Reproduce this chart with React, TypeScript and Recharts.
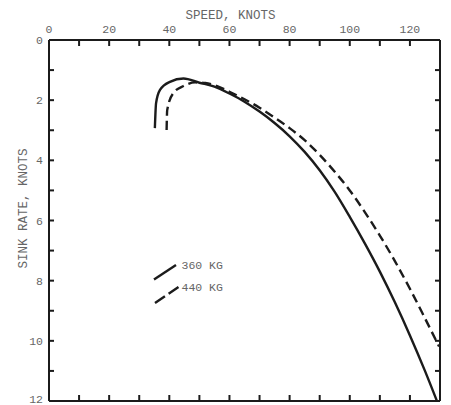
import React from 'react';
import { LineChart, Line, XAxis, YAxis, Legend } from 'recharts';

// Glide polar: sink rate vs. airspeed for two gross weights
const speed360 = [35.2, 35.6, 36.9, 40.2, 44.7, 50, 55, 60, 65, 70, 75, 80, 85, 90, 95, 100, 105, 110, 115, 120, 125, 128.9];
const sink360 = [2.93, 2.1, 1.66, 1.39, 1.28, 1.42, 1.55, 1.78, 2.05, 2.38, 2.76, 3.2, 3.72, 4.33, 5.05, 5.88, 6.76, 7.7, 8.72, 9.82, 11.0, 11.98];

const speed440 = [39.1, 39.3, 41.3, 44.7, 48.6, 52, 55, 60, 65, 70, 75, 80, 85, 90, 95, 100, 105, 110, 115, 120, 125, 129.7];
const sink440 = [2.99, 2.33, 1.77, 1.53, 1.41, 1.43, 1.5, 1.72, 1.97, 2.25, 2.58, 2.93, 3.33, 3.82, 4.38, 5.0, 5.72, 6.5, 7.35, 8.27, 9.25, 10.19];

const seriesNames = ['360 KG', '440 KG'];

const speedTicks = [0, 10, 20, 30, 40, 50, 60, 70, 80, 90, 100, 110, 120];
const sinkTicks = [0, 1, 2, 3, 4, 5, 6, 7, 8, 9, 10, 11, 12];

const data360 = speed360.map((s, i) => ({ speed: s, sink: sink360[i] }));
const data440 = speed440.map((s, i) => ({ speed: s, sink: sink440[i] }));

const INK = '#1b1b1b';
const LABEL = '#666666';
const FONT = '"Liberation Mono", "DejaVu Sans Mono", monospace';
const TICK_MARGIN = 6;
const TICK_LEN = 6;

const TopTick = (props: any) => {
  const { x, y, payload } = props;
  const axisY = y + TICK_MARGIN;
  return (
    <g>
      <line x1={x} x2={x} y1={axisY} y2={axisY + TICK_LEN} stroke={INK} strokeWidth={2} />
      {payload.value % 20 === 0 && (
        <text x={x} y={y - 1} textAnchor="middle" fontFamily={FONT} fontSize={11.5} fill={LABEL}>
          {payload.value}
        </text>
      )}
    </g>
  );
};

const BottomTick = (props: any) => {
  const { x, y } = props;
  const axisY = y - TICK_MARGIN;
  return <line x1={x} x2={x} y1={axisY} y2={axisY - TICK_LEN} stroke={INK} strokeWidth={2} />;
};

const LeftTick = (props: any) => {
  const { x, y, payload, index, visibleTicksCount } = props;
  const axisX = x + TICK_MARGIN;
  // keep the bottom label inside the frame edge
  const lift = index === visibleTicksCount - 1 ? 2.5 : 0;
  return (
    <g>
      <line x1={axisX} x2={axisX + TICK_LEN - 1} y1={y} y2={y} stroke={INK} strokeWidth={2} />
      {payload.value % 2 === 0 && (
        <text x={x} y={y - lift} dy="0.36em" textAnchor="end" fontFamily={FONT} fontSize={11.5} fill={LABEL}>
          {payload.value}
        </text>
      )}
    </g>
  );
};

const RightTick = (props: any) => {
  const { x, y } = props;
  const axisX = x - TICK_MARGIN;
  return <line x1={axisX} x2={axisX - TICK_LEN + 1} y1={y} y2={y} stroke={INK} strokeWidth={2} />;
};

const SpeedLabel = (props: any) => {
  const vb = props.viewBox || {};
  return (
    <text x={vb.x + vb.width / 2 - 14} y={vb.y + 19} textAnchor="middle" fontFamily={FONT} fontSize={12.5} fill={LABEL}>
      SPEED, KNOTS
    </text>
  );
};

const SinkLabel = (props: any) => {
  const vb = props.viewBox || {};
  const cx = 22;
  const cy = vb.y + vb.height / 2 - 12;
  return (
    <text
      x={cx}
      y={cy}
      dy="0.36em"
      transform={`rotate(-90 ${cx} ${cy})`}
      textAnchor="middle"
      fontFamily={FONT}
      fontSize={12.5}
      fill={LABEL}
    >
      SINK RATE, KNOTS
    </text>
  );
};

// Inline key: a short slanted stroke of each line style beside its weight
const WeightKey = (props: any) => {
  const items = props.payload || [];
  const rows = [
    { x1: 4, y1: 21.5, x2: 26, y2: 7 },
    { x1: 5, y1: 45, x2: 28.5, y2: 29 },
  ];
  return (
    <svg width={80} height={50} style={{ overflow: 'visible', display: 'block' }}>
      {items.map((it: any, i: number) => {
        const r = rows[i] || rows[0];
        const dashed = it.payload && it.payload.strokeDasharray;
        return (
          <g key={it.value}>
            <line
              x1={r.x1}
              y1={r.y1}
              x2={r.x2}
              y2={r.y2}
              stroke={it.color}
              strokeWidth={2.4}
              strokeDasharray={dashed ? '12 4.5' : undefined}
            />
            <text x={31.5} y={r.y2} dy="0.36em" fontFamily={FONT} fontSize={11.5} fill={LABEL}>
              {it.value}
            </text>
          </g>
        );
      })}
    </svg>
  );
};

export default function App() {
  return (
    <div style={{ position: 'absolute', left: 0, top: 0, background: '#fff' }}>
      <LineChart width={451} height={405} margin={{ top: 0, right: 0, bottom: 0, left: 0 }}>
        <XAxis
          xAxisId="top"
          orientation="top"
          type="number"
          dataKey="speed"
          domain={[0, 130]}
          allowDataOverflow
          ticks={speedTicks}
          interval={0}
          height={40}
          tickSize={0}
          tickMargin={TICK_MARGIN}
          tickLine={false}
          axisLine={{ stroke: INK, strokeWidth: 2 }}
          tick={TopTick}
          label={<SpeedLabel />}
        />
        <XAxis
          xAxisId="bottom"
          orientation="bottom"
          type="number"
          dataKey="speed"
          domain={[0, 130]}
          allowDataOverflow
          ticks={speedTicks}
          interval={0}
          height={4}
          tickSize={0}
          tickMargin={TICK_MARGIN}
          tickLine={false}
          axisLine={{ stroke: INK, strokeWidth: 2 }}
          tick={BottomTick}
        />
        <YAxis
          yAxisId="left"
          orientation="left"
          type="number"
          dataKey="sink"
          domain={[0, 12]}
          allowDataOverflow
          reversed
          ticks={sinkTicks}
          interval={0}
          width={49}
          tickSize={0}
          tickMargin={TICK_MARGIN}
          tickLine={false}
          axisLine={{ stroke: INK, strokeWidth: 2 }}
          tick={LeftTick}
          label={<SinkLabel />}
        />
        <YAxis
          yAxisId="right"
          orientation="right"
          type="number"
          dataKey="sink"
          domain={[0, 12]}
          allowDataOverflow
          reversed
          ticks={sinkTicks}
          interval={0}
          width={11}
          tickSize={0}
          tickMargin={TICK_MARGIN}
          tickLine={false}
          axisLine={{ stroke: INK, strokeWidth: 2 }}
          tick={RightTick}
        />
        <Line
          xAxisId="top"
          yAxisId="left"
          data={data360}
          dataKey="sink"
          name={seriesNames[0]}
          type="monotone"
          stroke={INK}
          strokeWidth={2.4}
          dot={false}
          isAnimationActive={false}
        />
        <Line
          xAxisId="top"
          yAxisId="left"
          data={data440}
          dataKey="sink"
          name={seriesNames[1]}
          type="monotone"
          stroke={INK}
          strokeWidth={2.4}
          strokeDasharray="9 5"
          dot={false}
          isAnimationActive={false}
        />
        <Legend
          layout="horizontal"
          verticalAlign="middle"
          align="center"
          content={<WeightKey />}
          wrapperStyle={{ left: 150, top: 258, width: 80, height: 50 }}
        />
      </LineChart>
    </div>
  );
}
